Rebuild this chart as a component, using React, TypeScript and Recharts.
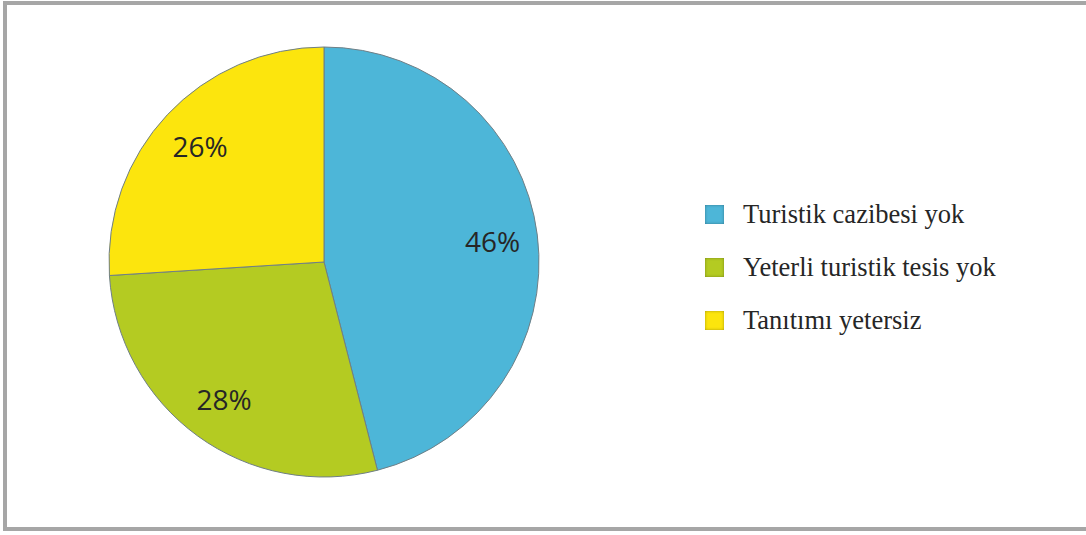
import { PieChart, Pie, Cell, Legend } from 'recharts'

const categories = ['Turistik cazibesi yok', 'Yeterli turistik tesis yok', 'Tanıtımı yetersiz']
const values = [46, 28, 26]
const colors = ['#4DB6D8', '#B4CB22', '#FCE50D']

const data = categories.map((name, i) => ({ name, value: values[i] }))

const RAD = Math.PI / 180

// percent labels sit inside the slices, about 4/5 of the radius out
function renderLabel(props: any) {
  const { cx, cy, midAngle, outerRadius, value } = props
  const r = outerRadius * 0.79
  const x = cx + r * Math.cos(-midAngle * RAD)
  const y = cy + r * Math.sin(-midAngle * RAD)
  return (
    <text
      x={x}
      y={y}
      fill="#262626"
      fontSize={28}
      fontFamily="'Open Sans', sans-serif"
      textAnchor="middle"
      dominantBaseline="central"
    >
      {value}%
    </text>
  )
}

// legend in data order (recharts would sort it by name)
function LegendList() {
  return (
    <div>
      {categories.map((name, i) => (
        <div
          key={name}
          style={{ display: 'flex', alignItems: 'center', height: 53 }}
        >
          <span
            style={{
              width: 19,
              height: 19,
              background: colors[i],
              boxShadow: 'inset 0 0 3px rgba(0,0,0,0.35)',
              marginRight: 19,
            }}
          />
          <span
            style={{
              fontFamily: "'Liberation Serif', 'Times New Roman', serif",
              fontSize: 26.5,
              color: '#262626',
            }}
          >
            {name}
          </span>
        </div>
      ))}
    </div>
  )
}

export default function App() {
  return (
    <div
      style={{
        position: 'absolute',
        left: 0,
        top: 0,
        width: 1086,
        height: 535,
        background: '#fff',
        overflow: 'hidden',
      }}
    >
      <div
        style={{
          position: 'absolute',
          left: 3,
          top: 1,
          width: 1100,
          height: 530,
          border: '4px solid #A6A6A6',
          boxSizing: 'border-box',
        }}
      />
      <div style={{ position: 'absolute', left: 0, top: 0 }}>
        <PieChart
          width={1086}
          height={535}
          margin={{ top: 0, right: 0, bottom: 0, left: 0 }}
        >
          <Pie
            data={data}
            dataKey="value"
            nameKey="name"
            cx={324}
            cy={262}
            outerRadius={215}
            startAngle={90}
            endAngle={-270}
            stroke="#6f7f86"
            strokeWidth={1}
            label={renderLabel}
            labelLine={false}
            isAnimationActive={false}
          >
            {data.map((d, i) => (
              <Cell key={d.name} fill={colors[i]} />
            ))}
          </Pie>
          <Legend
            layout="vertical"
            content={<LegendList />}
            wrapperStyle={{ left: 705, top: 188, width: 370, bottom: 'auto' }}
          />
        </PieChart>
      </div>
    </div>
  )
}
